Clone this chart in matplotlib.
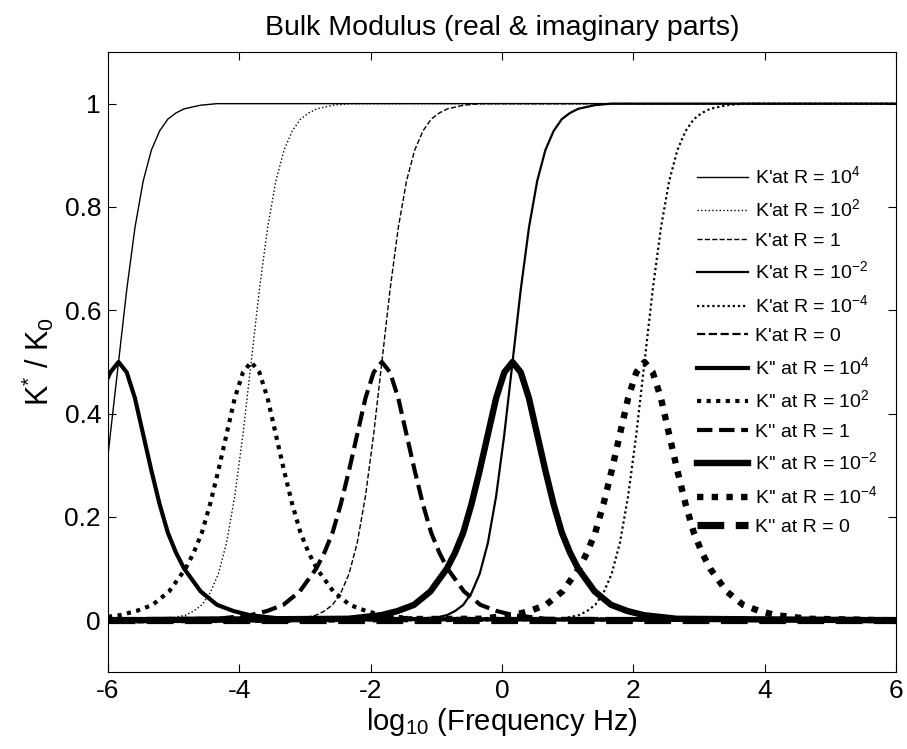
import matplotlib
matplotlib.use("Agg")
import matplotlib.pyplot as plt

plt.rcParams['font.family'] = ['Liberation Sans', 'DejaVu Sans']
plt.rcParams['mathtext.fontset'] = 'custom'
plt.rcParams['mathtext.rm'] = 'Liberation Sans'
plt.rcParams['axes.unicode_minus'] = False

# K' (real part) curves
kr_1e4_x = [-6.0, -5.965, -5.84, -5.715, -5.59, -5.465, -5.34, -5.215, -5.09, -4.965, -4.84, -4.59, -4.34, 6.0]
kr_1e4_y = [0.32, 0.36, 0.5, 0.64, 0.76, 0.85, 0.91, 0.947, 0.97, 0.982, 0.99, 0.997, 1.0, 1.0]
kr_1e2_x = [-6.0, -5.82, -5.32, -5.07, -4.82, -4.695, -4.57, -4.445, -4.32, -4.195, -4.07, -3.945,
            -3.82, -3.695, -3.57, -3.445, -3.32, -3.195, -3.07, -2.945, -2.82, -2.57, -2.32, 6.0]
kr_1e2_y = [0.0, 0.0, 0.001, 0.003, 0.01, 0.018, 0.03, 0.053, 0.09, 0.15, 0.24, 0.36,
            0.5, 0.64, 0.76, 0.85, 0.91, 0.947, 0.97, 0.982, 0.99, 0.997, 1.0, 1.0]
kr_1_x = [-6.0, -3.83, -3.33, -3.08, -2.83, -2.705, -2.58, -2.455, -2.33, -2.205, -2.08, -1.955,
          -1.83, -1.705, -1.58, -1.455, -1.33, -1.205, -1.08, -0.955, -0.83, -0.58, -0.33, 6.0]
kr_1_y = [0.0, 0.0, 0.001, 0.003, 0.01, 0.018, 0.03, 0.053, 0.09, 0.15, 0.24, 0.36,
          0.5, 0.64, 0.76, 0.85, 0.91, 0.947, 0.97, 0.982, 0.99, 0.997, 1.0, 1.0]
kr_1em2_x = [-6.0, -1.84, -1.34, -1.09, -0.84, -0.715, -0.59, -0.465, -0.34, -0.215, -0.09, 0.035,
             0.16, 0.285, 0.41, 0.535, 0.66, 0.785, 0.91, 1.035, 1.16, 1.41, 1.66, 6.0]
kr_1em2_y = [0.0, 0.0, 0.001, 0.003, 0.01, 0.018, 0.03, 0.053, 0.09, 0.15, 0.24, 0.36,
             0.5, 0.64, 0.76, 0.85, 0.91, 0.947, 0.97, 0.982, 0.99, 0.997, 1.0, 1.0]
kr_1em4_x = [-6.0, 0.17, 0.67, 0.92, 1.17, 1.295, 1.42, 1.545, 1.67, 1.795, 1.92, 2.045,
             2.17, 2.295, 2.42, 2.545, 2.67, 2.795, 2.92, 3.045, 3.17, 3.42, 3.67, 6.0]
kr_1em4_y = [0.0, 0.0, 0.001, 0.003, 0.01, 0.018, 0.03, 0.053, 0.09, 0.15, 0.24, 0.36,
             0.5, 0.64, 0.76, 0.85, 0.91, 0.947, 0.97, 0.982, 0.99, 0.997, 1.0, 1.0]
kr_0_x = [-6.0, 6.0]
kr_0_y = [0.0, 0.0]

# K'' (imaginary part) curves
ki_1e4_x = [-6.0, -5.965, -5.84, -5.715, -5.59, -5.465, -5.34, -5.215, -5.09, -4.965, -4.84,
            -4.59, -4.34, -4.09, -3.84, -3.34, 6.0]
ki_1e4_y = [0.47, 0.48, 0.5, 0.48, 0.43, 0.36, 0.29, 0.225, 0.17, 0.131, 0.1,
            0.056, 0.03, 0.018, 0.01, 0.003, 0.0]
ki_1e2_x = [-6.0, -5.82, -5.57, -5.32, -5.07, -4.82, -4.695, -4.57, -4.445, -4.32, -4.195, -4.07, -3.945,
            -3.82, -3.695, -3.57, -3.445, -3.32, -3.195, -3.07, -2.945, -2.82, -2.57, -2.32, -2.07,
            -1.82, -1.32, 6.0]
ki_1e2_y = [0.007, 0.01, 0.018, 0.03, 0.056, 0.1, 0.131, 0.17, 0.225, 0.29, 0.36, 0.43, 0.48,
            0.5, 0.48, 0.43, 0.36, 0.29, 0.225, 0.17, 0.131, 0.1, 0.056, 0.03, 0.018,
            0.01, 0.003, 0.0]
ki_1_x = [-6.0, -4.33, -3.83, -3.58, -3.33, -3.08, -2.83, -2.705, -2.58, -2.455, -2.33, -2.205, -2.08,
          -1.955, -1.83, -1.705, -1.58, -1.455, -1.33, -1.205, -1.08, -0.955, -0.83, -0.58, -0.33,
          -0.08, 0.17, 0.67, 6.0]
ki_1_y = [0.0, 0.003, 0.01, 0.018, 0.03, 0.056, 0.1, 0.131, 0.17, 0.225, 0.29, 0.36, 0.43,
          0.48, 0.5, 0.48, 0.43, 0.36, 0.29, 0.225, 0.17, 0.131, 0.1, 0.056, 0.03,
          0.018, 0.01, 0.003, 0.0]
ki_1em2_x = [-6.0, -2.34, -1.84, -1.59, -1.34, -1.09, -0.84, -0.715, -0.59, -0.465, -0.34, -0.215, -0.09,
             0.035, 0.16, 0.285, 0.41, 0.535, 0.66, 0.785, 0.91, 1.035, 1.16, 1.41, 1.66,
             1.91, 2.16, 2.66, 6.0]
ki_1em2_y = [0.0, 0.003, 0.01, 0.018, 0.03, 0.056, 0.1, 0.131, 0.17, 0.225, 0.29, 0.36, 0.43,
             0.48, 0.5, 0.48, 0.43, 0.36, 0.29, 0.225, 0.17, 0.131, 0.1, 0.056, 0.03,
             0.018, 0.01, 0.003, 0.0]
ki_1em4_x = [-6.0, -0.33, 0.17, 0.42, 0.67, 0.92, 1.17, 1.295, 1.42, 1.545, 1.67, 1.795, 1.92,
             2.045, 2.17, 2.295, 2.42, 2.545, 2.67, 2.795, 2.92, 3.045, 3.17, 3.42, 3.67,
             3.92, 4.17, 4.67, 6.0]
ki_1em4_y = [0.0, 0.003, 0.01, 0.018, 0.03, 0.056, 0.1, 0.131, 0.17, 0.225, 0.29, 0.36, 0.43,
             0.48, 0.5, 0.48, 0.43, 0.36, 0.29, 0.225, 0.17, 0.131, 0.1, 0.056, 0.03,
             0.018, 0.01, 0.003, 0.0]
ki_0_x = [-6.0, 6.0]
ki_0_y = [0.0, 0.0]

r_labels = ['10$^{4}$', '10$^{2}$', '1', '10$^{-2}$', '10$^{-4}$', '0']

fig = plt.figure(figsize=(9.07, 7.49), dpi=100)
ax = fig.add_axes([0.1191, 0.1028, 0.8688, 0.8278])

dot = (0, (1, 1.3))
real_series = [
    (kr_1e4_x, kr_1e4_y, '-', 1.0),
    (kr_1e2_x, kr_1e2_y, ':', 1.0),
    (kr_1_x, kr_1_y, '--', 1.0),
    (kr_1em2_x, kr_1em2_y, '-', 1.6),
    (kr_1em4_x, kr_1em4_y, dot, 1.6),
    (kr_0_x, kr_0_y, '--', 1.6),
]
imag_series = [
    (ki_1e4_x, ki_1e4_y, '-', 3.0),
    (ki_1e2_x, ki_1e2_y, dot, 3.0),
    (ki_1_x, ki_1_y, '--', 3.0),
    (ki_1em2_x, ki_1em2_y, '-', 4.6),
    (ki_1em4_x, ki_1em4_y, dot, 4.6),
    (ki_0_x, ki_0_y, '--', 5.2),
]

for (x, y, ls, lw), r in zip(real_series, r_labels):
    ax.plot(x, y, color='black', linestyle=ls, linewidth=lw, label="K'at R = " + r)
for (x, y, ls, lw), r in zip(imag_series, r_labels):
    ax.plot(x, y, color='black', linestyle=ls, linewidth=lw, label="K'' at R = " + r)

ax.set_xlim(-6, 6)
ax.set_ylim(-0.1, 1.1)
ax.set_xticks([-6, -4, -2, 0, 2, 4, 6])
ax.set_yticks([0, 0.2, 0.4, 0.6, 0.8, 1])
ax.set_yticklabels(['0', '0.2', '0.4', '0.6', '0.8', '1'])
ax.tick_params(direction='in', top=True, right=True, length=6, labelsize=19, pad=5)
for s in ax.spines.values():
    s.set_linewidth(0.8)

ax.set_title('Bulk Modulus (real & imaginary parts)', fontsize=20.5, pad=12)
ax.set_xlabel('log$_{10}$ (Frequency Hz)', fontsize=21, labelpad=2)
ax.set_ylabel('K$^{*}$ / K$_{0}$', fontsize=22, labelpad=6)

ax.legend(loc='upper left', bbox_to_anchor=(0.738, 0.83), frameon=False,
          fontsize=14, handlelength=2.6, handletextpad=0.35, labelspacing=0.56,
          borderaxespad=0.0)

fig.savefig('out.png', dpi=100)
